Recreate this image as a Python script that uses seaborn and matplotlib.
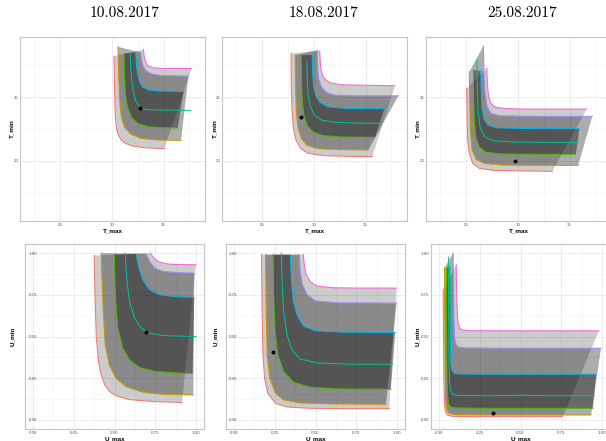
import numpy as np
import pandas as pd
import matplotlib
matplotlib.use("Agg")
import matplotlib.pyplot as plt
import seaborn as sns

# ---------------- data ----------------
titles = ["10.08.2017", "18.08.2017", "25.08.2017"]
levels = ["L1", "L2", "L3", "L4", "L5", "L6", "L7"]
colors = ["#F8766D", "#C49A00", "#53B400", "#00C094", "#00B6EB", "#A58AFF", "#FB61D7"]

# T panels (x = T_max, y = T_min); curves ordered red, gold, green, teal, blue, purple, pink
t1_x = [[30.19, 30.25, 30.32, 30.45, 30.71, 31.16, 31.97, 33.11, 35.06],
        [30.58, 30.64, 30.74, 30.90, 31.23, 31.81, 32.79, 34.41, 36.68],
        [31.16, 31.20, 31.29, 31.49, 31.88, 32.46, 33.44, 34.73, 36.36],
        [31.75, 31.81, 31.91, 32.07, 32.33, 32.72, 33.27, 34.73, 37.59],
        [32.30, 32.36, 32.46, 32.66, 32.98, 33.60, 34.73, 36.94],
        [32.79, 32.85, 32.98, 33.24, 33.76, 34.73, 37.40],
        [33.05, 33.11, 33.24, 33.50, 34.02, 35.06, 37.72]]
t1_y = [[28.20, 25.54, 23.46, 22.42, 21.85, 21.43, 21.17, 21.04, 20.96],
        [28.93, 26.85, 24.76, 23.46, 22.63, 22.11, 21.77, 21.64, 21.61],
        [28.41, 26.85, 25.28, 24.24, 23.41, 22.94, 22.68, 22.60, 22.58],
        [28.46, 27.37, 26.33, 25.41, 24.63, 24.19, 24.03, 23.98, 23.96],
        [28.49, 27.63, 26.85, 26.20, 25.78, 25.54, 25.47, 25.44],
        [28.49, 28.02, 27.50, 27.11, 26.82, 26.69, 26.64],
        [28.72, 28.15, 27.76, 27.44, 27.29, 27.24, 27.24]]
t1_dot = [32.72, 24.15]

t2_x = [[27.79, 27.79, 27.86, 27.99, 28.25, 28.70, 29.41, 31.03, 33.30, 35.64],
        [28.18, 28.21, 28.28, 28.44, 28.76, 29.32, 30.39, 32.66, 35.25],
        [28.76, 28.80, 28.86, 29.02, 29.35, 29.90, 30.87, 32.66, 35.90],
        [29.32, 29.35, 29.44, 29.67, 30.06, 30.71, 32.01, 33.95, 36.32],
        [29.83, 29.87, 29.96, 30.19, 30.58, 31.36, 32.98, 36.80],
        [30.32, 30.35, 30.45, 30.71, 31.20, 32.01, 33.95, 38.17],
        [30.55, 30.61, 30.71, 30.97, 31.52, 32.66, 34.60, 37.84]]
t2_y = [[28.41, 26.33, 24.24, 22.68, 21.64, 20.99, 20.60, 20.41, 20.36, 20.34],
        [28.28, 26.07, 23.98, 22.68, 21.77, 21.22, 20.96, 20.88, 20.86],
        [28.28, 26.33, 24.76, 23.59, 22.76, 22.26, 21.98, 21.87, 21.85],
        [27.76, 26.33, 25.15, 24.24, 23.59, 23.20, 23.02, 22.97, 22.94],
        [28.28, 26.85, 25.80, 25.07, 24.58, 24.24, 24.11, 24.09],
        [28.67, 27.37, 26.46, 25.80, 25.36, 25.15, 25.10, 25.10],
        [28.62, 27.63, 26.98, 26.46, 26.12, 25.96, 25.93, 25.88]]
t2_dot = [28.76, 23.41]

t3_x = [[25.03, 25.07, 25.13, 25.29, 25.62, 26.27, 27.56, 30.16, 33.33],
        [25.29, 25.33, 25.39, 25.55, 25.94, 26.75, 28.54, 31.78, 35.83],
        [25.68, 25.71, 25.78, 25.94, 26.27, 26.91, 28.54, 31.78, 35.60],
        [26.04, 26.07, 26.14, 26.33, 26.75, 27.56, 29.51, 32.43, 35.77],
        [26.40, 26.43, 26.49, 26.69, 27.08, 27.89, 29.83, 32.75, 35.93],
        [26.65, 26.72, 26.82, 27.01, 27.40, 28.21, 30.16, 33.40, 37.19],
        [26.98, 27.04, 27.14, 27.34, 27.72, 28.54, 30.48, 33.40, 36.64]]
t3_y = [[25.67, 23.46, 21.64, 20.60, 19.81, 19.42, 19.27, 19.22, 19.19],
        [26.98, 24.76, 22.42, 20.86, 20.13, 19.81, 19.68, 19.66, 19.66],
        [27.11, 25.02, 22.94, 21.77, 21.06, 20.67, 20.54, 20.52, 20.52],
        [27.89, 25.80, 23.85, 22.68, 21.90, 21.59, 21.48, 21.46, 21.43],
        [27.05, 25.54, 24.24, 23.33, 22.81, 22.60, 22.55, 22.52, 22.52],
        [28.98, 26.85, 25.28, 24.24, 23.72, 23.54, 23.51, 23.49, 23.49],
        [27.24, 26.07, 25.15, 24.55, 24.24, 24.11, 24.06, 24.06, 24.06]]
t3_dot = [29.75, 20.02]

# U panels (x = U_max, y = U_min)
u1_x = [[0.375, 0.380, 0.388, 0.400, 0.415, 0.440, 0.470, 0.510, 0.590, 0.740, 0.915],
        [0.418, 0.425, 0.431, 0.443, 0.468, 0.509, 0.571, 0.674, 0.798, 0.984],
        [0.499, 0.505, 0.520, 0.551, 0.592, 0.654, 0.757, 0.881, 0.980],
        [0.566, 0.575, 0.592, 0.623, 0.664, 0.716, 0.798, 0.900, 1.000],
        [0.633, 0.650, 0.674, 0.716, 0.777, 0.880, 0.990],
        [0.695, 0.716, 0.746, 0.798, 0.901, 0.990],
        [0.720, 0.730, 0.746, 0.777, 0.829, 0.922, 1.000]]
u1_y = [[0.985, 0.750, 0.500, 0.360, 0.280, 0.210, 0.170, 0.145, 0.122, 0.110, 0.105],
        [1.000, 0.800, 0.650, 0.450, 0.330, 0.250, 0.200, 0.166, 0.154, 0.150],
        [0.990, 0.750, 0.550, 0.430, 0.360, 0.314, 0.290, 0.282, 0.278],
        [1.000, 0.850, 0.710, 0.610, 0.550, 0.520, 0.506, 0.502, 0.500],
        [0.995, 0.910, 0.840, 0.780, 0.750, 0.738, 0.735],
        [0.995, 0.950, 0.910, 0.890, 0.882, 0.880],
        [1.000, 0.985, 0.965, 0.945, 0.934, 0.930, 0.930]]
u1_dot = [0.693, 0.526]

u2_x = [[0.168, 0.172, 0.177, 0.187, 0.207, 0.254, 0.325, 0.467, 0.710, 0.953],
        [0.193, 0.197, 0.203, 0.219, 0.254, 0.304, 0.406, 0.608, 0.933],
        [0.239, 0.243, 0.252, 0.268, 0.304, 0.365, 0.467, 0.629, 0.963],
        [0.290, 0.294, 0.304, 0.325, 0.355, 0.406, 0.507, 0.710, 0.975],
        [0.345, 0.352, 0.364, 0.390, 0.430, 0.500, 0.669, 0.990],
        [0.400, 0.406, 0.420, 0.450, 0.500, 0.629, 0.998],
        [0.425, 0.431, 0.443, 0.470, 0.510, 0.605, 0.770, 0.998]]
u2_y = [[0.990, 0.650, 0.390, 0.250, 0.160, 0.100, 0.078, 0.070, 0.068, 0.068],
        [0.990, 0.650, 0.390, 0.250, 0.160, 0.120, 0.102, 0.096, 0.094],
        [0.990, 0.750, 0.530, 0.390, 0.290, 0.226, 0.196, 0.186, 0.184],
        [1.000, 0.850, 0.650, 0.510, 0.420, 0.366, 0.342, 0.334, 0.334],
        [0.990, 0.830, 0.710, 0.620, 0.560, 0.534, 0.526, 0.524],
        [0.990, 0.890, 0.810, 0.750, 0.714, 0.702, 0.700],
        [0.990, 0.930, 0.870, 0.826, 0.802, 0.792, 0.790, 0.790]]
u2_dot = [0.238, 0.408]

u3_x = [[0.025, 0.027, 0.029, 0.032, 0.038, 0.050, 0.080, 0.200, 0.500, 0.760],
        [0.033, 0.035, 0.037, 0.040, 0.047, 0.060, 0.100, 0.300, 0.600, 0.934],
        [0.045, 0.046, 0.048, 0.051, 0.058, 0.070, 0.100, 0.300, 0.600, 0.945],
        [0.057, 0.058, 0.060, 0.064, 0.072, 0.085, 0.120, 0.300, 0.500, 0.700, 0.955],
        [0.066, 0.067, 0.069, 0.073, 0.080, 0.095, 0.130, 0.400, 0.965],
        [0.086, 0.088, 0.091, 0.096, 0.105, 0.120, 0.160, 0.400, 0.995],
        [0.105, 0.107, 0.110, 0.116, 0.125, 0.140, 0.180, 0.400, 0.982]]
u3_y = [[0.780, 0.500, 0.250, 0.100, 0.050, 0.030, 0.022, 0.020, 0.020, 0.020],
        [0.910, 0.600, 0.300, 0.120, 0.060, 0.040, 0.032, 0.030, 0.030, 0.030],
        [0.910, 0.600, 0.300, 0.150, 0.095, 0.078, 0.072, 0.070, 0.070, 0.070],
        [0.975, 0.700, 0.400, 0.220, 0.170, 0.152, 0.147, 0.145, 0.148, 0.145, 0.146],
        [0.920, 0.700, 0.450, 0.330, 0.295, 0.280, 0.275, 0.274, 0.274],
        [1.000, 0.800, 0.600, 0.490, 0.450, 0.437, 0.432, 0.430, 0.430],
        [0.930, 0.800, 0.680, 0.580, 0.550, 0.540, 0.535, 0.534, 0.534]]
u3_dot = [0.329, 0.042]

t_xticks = [25, 30, 35]
t_yticks = [20, 25]
u_ticks = [0.0, 0.25, 0.5, 0.75, 1.0]
u_ticklabels = ["0.00", "0.25", "0.50", "0.75", "1.00"]

# ---------------- layout ----------------
W, H = 606, 441
fig = plt.figure(figsize=(W / 100, H / 100), dpi=100)
fig.patch.set_facecolor("white")


def rect(l, t, w, h):
    return [l / W, 1 - (t + h) / H, w / W, h / H]


band_alpha = [0.20, 0.32, 0.39]
palette = dict(zip(levels, colors))


def draw_panel(ax, xs, ys, dot):
    rows = []
    for lev, xx, yy in zip(levels, xs, ys):
        for i, (a, b) in enumerate(zip(xx, yy)):
            rows.append((lev, i, a, b))
    df = pd.DataFrame(rows, columns=["level", "order", "x", "y"])
    # ribbons between symmetric pairs of curves
    for k in range(3):
        lo, hi = k, 6 - k
        px = list(xs[lo]) + list(xs[hi])[::-1]
        py = list(ys[lo]) + list(ys[hi])[::-1]
        ax.fill(px, py, color="black", alpha=band_alpha[k], lw=0, zorder=2)
    sns.lineplot(data=df, x="x", y="y", hue="level", palette=palette, units="level",
                 estimator=None, sort=False, legend=False, lw=0.75, ax=ax, zorder=3)
    sns.scatterplot(x=[dot[0]], y=[dot[1]], color="black", s=8, linewidth=0, ax=ax, zorder=4)


def style(ax, xlim, ylim, xt, yt, xtl, ytl, xminor, yminor, xlabel, ylabel,
          ypad, ylab_x):
    ax.set_xlim(*xlim)
    ax.set_ylim(*ylim)
    ax.set_xticks(xt)
    ax.set_xticklabels(xtl)
    ax.set_yticks(yt)
    ax.set_yticklabels(ytl)
    ax.set_xticks(xminor, minor=True)
    ax.set_yticks(yminor, minor=True)
    ax.grid(which="major", color="#E6E6E6", lw=0.5)
    ax.grid(which="minor", color="#F2F2F2", lw=0.4)
    ax.set_axisbelow(True)
    for s in ax.spines.values():
        s.set_color("#C4C4C4")
        s.set_linewidth(0.8)
    ax.tick_params(which="both", length=0, labelsize=3.2, labelcolor="#555555")
    ax.tick_params(axis="x", pad=1.2)
    ax.tick_params(axis="y", pad=ypad)
    ax.set_xlabel(xlabel, fontsize=4.6, fontweight="bold", family="Liberation Sans", labelpad=1.2)
    ax.set_ylabel(ylabel, fontsize=4.6, fontweight="bold", family="Liberation Sans")
    ax.yaxis.set_label_coords(ylab_x, 0.5)
    for lab in ax.get_xticklabels() + ax.get_yticklabels():
        lab.set_family("Liberation Sans")


top_lefts = [20, 222, 426]
bot_lefts = [25, 226, 431]
bot_ypad = [-8.8, -8.0, 1.2]
bot_ylab = [-10.0, -8.0, -11.0]
top_ylab = [-6.0, -4.5, -5.5]
t_sets = [(t1_x, t1_y, t1_dot), (t2_x, t2_y, t2_dot), (t3_x, t3_y, t3_dot)]
u_sets = [(u1_x, u1_y, u1_dot), (u2_x, u2_y, u2_dot), (u3_x, u3_y, u3_dot)]

for i in range(3):
    ax = fig.add_axes(rect(top_lefts[i], 37, 185, 184))
    xs, ys, d = t_sets[i]
    draw_panel(ax, xs, ys, d)
    style(ax, (21.1, 39.0), (15.3, 29.7), t_xticks, t_yticks,
          [str(v) for v in t_xticks], [str(v) for v in t_yticks],
          [22.5, 27.5, 32.5, 37.5], [17.5, 22.5, 27.5], "T_max", "T_min",
          1.2, top_ylab[i] / 185)

    ax = fig.add_axes(rect(bot_lefts[i], 244, 179, 185))
    xs, ys, d = u_sets[i]
    draw_panel(ax, xs, ys, d)
    style(ax, (-0.05, 1.05), (-0.054, 1.054), u_ticks, u_ticks, u_ticklabels, u_ticklabels,
          [0.125, 0.375, 0.625, 0.875], [0.125, 0.375, 0.625, 0.875], "U_max", "U_min",
          bot_ypad[i], bot_ylab[i] / 179)

title_x = [125, 323, 522]
for tx, tt in zip(title_x, titles):
    fig.text(tx / W, 1 - 13 / H, tt, ha="center", va="center", fontsize=11, family="cmr10")

fig.savefig("out.png", dpi=100, facecolor="white")
